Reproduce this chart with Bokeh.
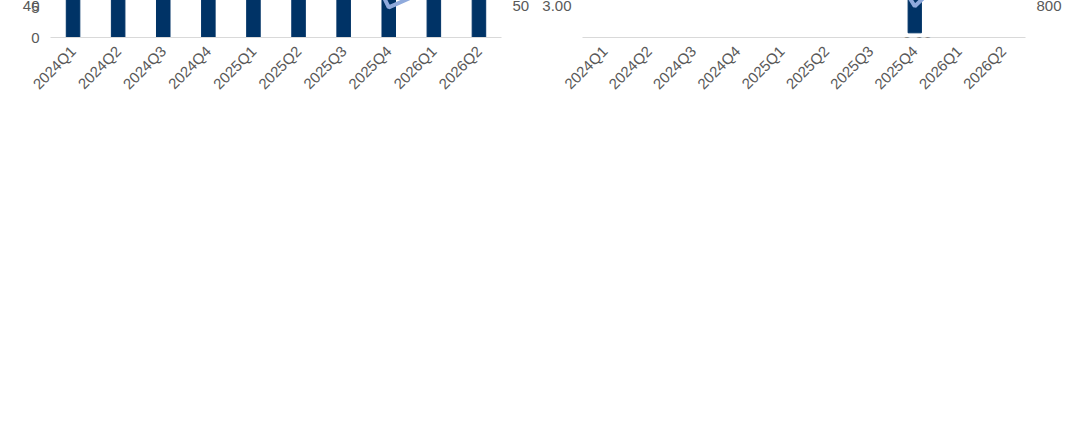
from bokeh.plotting import figure
from bokeh.models import Range1d, LinearAxis, FixedTicker, Label, Title, FactorRange
from bokeh.layouts import row
from bokeh.embed import file_html
from bokeh.resources import INLINE

quarters = ["2024Q1","2024Q2","2024Q3","2024Q4","2025Q1","2025Q2","2025Q3","2025Q4","2026Q1","2026Q2"]
revenue = [23.31,24.82,25.92,31.02,32.43,34.50,29.46,27.57,30.68,35.19]
revenue_yoy = [9,31,43,36,39,39,17,-11,-5,2]
profit = [1.20,1.62,1.09,0.70,2.26,2.79,2.52,-0.92,1.72,2.47]
profit_yoy = [7,7,-9,725,90,73,130,-240,-23,-14]

BAR = "#003366"; LINE = "#8FAADC"; GRAY = "#595959"; FONT = "Liberation Sans"
CJK = "Noto Sans CJK SC"

def fmt_neg(v, dec):
    return ("(%." + str(dec) + "f)") % abs(v)

def panel(title, vals, yoy, lrange, lticks, ldec, rrange, rticks, legend_bar):
    p = figure(x_range=FactorRange(*quarters), y_range=Range1d(*lrange), width=532, height=409,
               output_backend="svg", toolbar_location=None, min_border_left=50, min_border_right=30,
               min_border_top=20, min_border_bottom=10)
    p.extra_y_ranges = {"r": Range1d(*rrange)}
    p.outline_line_color = None
    p.grid.visible = False
    p.vbar(x=quarters, top=vals, width=0.3, color=BAR, legend_label=legend_bar)
    p.line(x=quarters, y=yoy, y_range_name="r", color=LINE, line_width=4, legend_label="同比（%）")
    for i, v in enumerate(vals):
        p.add_layout(Label(x=i + 0.5, y=v, text=f"{v:.2f}", text_align="center",
                           text_baseline="bottom" if v >= 0 else "top", y_offset=4 if v >= 0 else -4,
                           text_font=FONT, text_font_size="15px", text_color="#404040"))
    ax = p.yaxis[0]
    ax.ticker = FixedTicker(ticks=lticks)
    ax.major_label_overrides = {t: ("" if t < 0 else f"{t:.{ldec}f}") for t in lticks}
    ra = LinearAxis(y_range_name="r", ticker=FixedTicker(ticks=rticks))
    ra.major_label_overrides = {t: ("" if t < 0 else f"{t:.0f}") for t in rticks}
    p.add_layout(ra, "right")
    for a in (ax, ra):
        a.axis_line_color = None; a.major_tick_line_color = None; a.minor_tick_line_color = None
        a.major_label_text_font = FONT; a.major_label_text_font_size = "15px"
        a.major_label_text_color = GRAY
    xa = p.xaxis[0]
    xa.major_label_orientation = 0.785
    xa.major_label_text_font = FONT; xa.major_label_text_font_size = "15px"
    xa.major_label_text_color = GRAY
    xa.axis_line_color = "#D9D9D9"; xa.major_tick_line_color = None
    n = len(quarters)
    for t in lticks:
        if t < 0:
            p.add_layout(Label(x=0, y=t, text=fmt_neg(t, ldec), text_align="right", text_baseline="middle",
                               x_offset=-4, text_font=FONT, text_font_size="15px", text_color="red"))
    for t in rticks:
        if t < 0:
            p.add_layout(Label(x=n, y=t, y_range_name="r", text=fmt_neg(t, 0), text_align="left",
                               text_baseline="middle", x_offset=4, text_font=FONT,
                               text_font_size="15px", text_color="red"))
    leg = p.legend[0]
    leg.orientation = "horizontal"; leg.location = "center"
    leg.border_line_color = None; leg.label_text_font = CJK; leg.label_text_font_size = "14px"
    leg.label_text_color = "#262626"; leg.glyph_width = 40; leg.spacing = 40
    leg.margin = 5; leg.padding = 2
    p.add_layout(leg, "below")
    p.add_layout(Title(text="资料来源：Wind，华创证券", text_font=CJK, text_font_style="italic",
                       text_font_size="14px", text_color="#1F3864"), "below")
    p.add_layout(Title(text=title, text_font=CJK, text_font_style="bold", text_font_size="17px",
                       text_color="#1F3864"), "above")
    return p

p1 = panel("图表 1   宗申动力单季度营收及增速", revenue, revenue_yoy, (0, 40), list(range(0, 41, 5)), 0,
           (-20, 50), list(range(-20, 51, 10)), "营业总收入（亿元）")
p2 = panel("图表 2   宗申动力单季度归母净利润及增速", profit, profit_yoy, (-1, 3),
           [-1, -0.5, 0, 0.5, 1, 1.5, 2, 2.5, 3], 2, (-400, 800), list(range(-400, 801, 200)),
           "归属母公司股东的净利润（亿元）")
p = row(p1, p2)
open("out.html", "w").write(file_html(p, INLINE))
